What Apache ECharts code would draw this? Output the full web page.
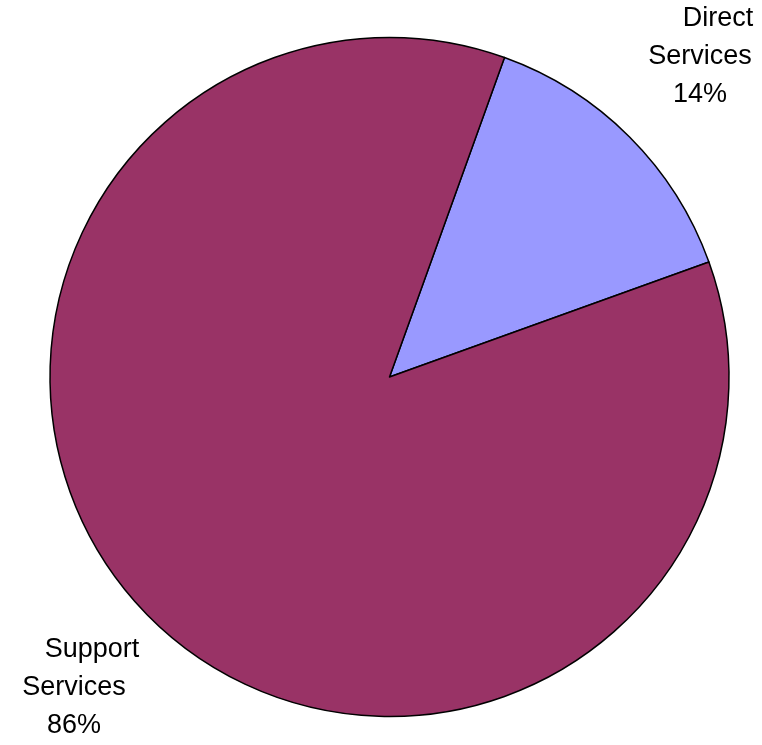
<!DOCTYPE html>
<html>
<head>
<meta charset="utf-8">
<script src="https://cdn.jsdelivr.net/npm/echarts@6/dist/echarts.min.js"></script>
<style>html,body{margin:0;padding:0;background:#fff}#c{width:762px;height:745px}</style>
</head>
<body>
<div id="c"></div>
<script>
var categories = ['Direct Services', 'Support Services'];
var firstWords = ['Direct', 'Support'];
var secondWords = ['Services', 'Services'];
var values = [14, 86];
var colors = ['#9999FF', '#993366'];
var labelPos = [[700, 57], [74, 688]];

var chart = echarts.init(document.getElementById('c'), null, {renderer: 'canvas'});
var ff = 'Liberation Sans, Arial, sans-serif';
chart.setOption({
  animation: false,
  backgroundColor: '#ffffff',
  series: [{
    type: 'pie',
    center: [389.5, 377],
    radius: [0, 339.5],
    startAngle: 70.2,
    clockwise: true,
    data: categories.map(function (c, i) {
      return {name: c, value: values[i], itemStyle: {color: colors[i]}};
    }),
    itemStyle: {borderColor: '#000', borderWidth: 1.5},
    emphasis: {disabled: true},
    labelLine: {show: false},
    label: {
      show: true,
      position: 'outside',
      overflow: 'none',
      bleedMargin: 0,
      formatter: function (p) {
        return '{a|' + firstWords[p.dataIndex] + '}\n{b|' + secondWords[p.dataIndex] + '}\n{b|' + p.percent.toFixed(0) + '%}';
      },
      fontFamily: ff,
      fontSize: 27,
      color: '#000',
      lineHeight: 38,
      align: 'center',
      rich: {
        a: {fontFamily: ff, fontSize: 27, lineHeight: 38, color: '#000', padding: [0, 0, 0, 36]},
        b: {fontFamily: ff, fontSize: 27, lineHeight: 38, color: '#000'}
      }
    },
    labelLayout: function (params) {
      var p = labelPos[params.dataIndex];
      return {x: p[0], y: p[1], align: 'center', verticalAlign: 'middle', hideOverlap: false};
    }
  }]
});
</script>
</body>
</html>
